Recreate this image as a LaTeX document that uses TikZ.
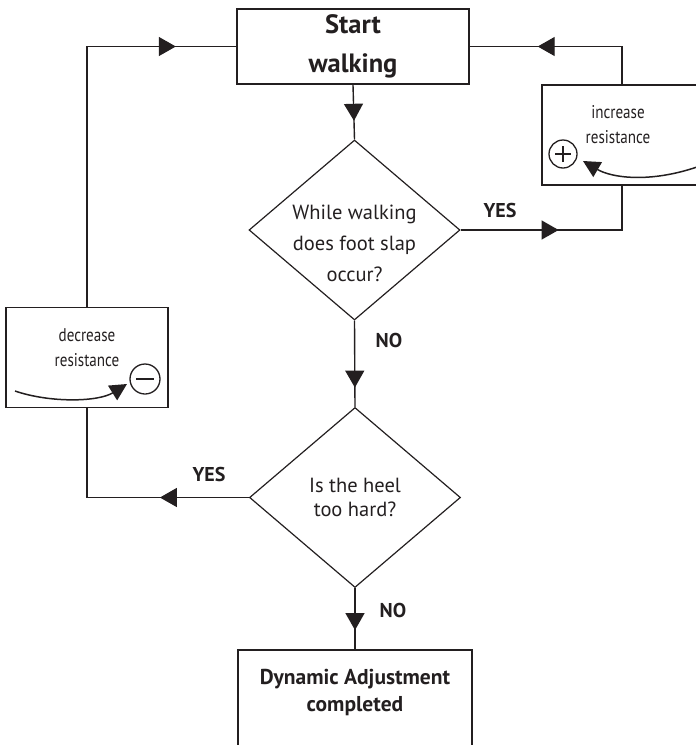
\documentclass[tikz,border=0pt]{standalone}
\usepackage{fontspec}
\setmainfont{PT Sans}
\newfontfamily\condfont[FakeStretch=0.82]{PT Sans}
\usetikzlibrary{shapes.geometric,arrows.meta,decorations.markings}
\definecolor{ink}{HTML}{231F20}
\tikzset{
  box/.style={draw=ink, line width=1.6pt, inner sep=0pt},
  dia/.style={draw=ink, line width=1.2pt, diamond, inner sep=0pt, minimum width=211pt, minimum height=180pt},
  conn/.style={draw=ink, line width=1.4pt},
  arrowat/.style={postaction={decorate}, decoration={markings, mark=at position #1 with {\arrow[ink]{Triangle[length=17pt,width=19pt]}}}},
  lab/.style={text=ink, font=\fontsize{20}{22}\selectfont\bfseries},
  qtext/.style={text=ink, align=center, inner sep=0pt},
  adj/.style={text=ink, align=center, inner sep=0pt, font=\condfont\fontsize{18.4}{25}\selectfont},
}
\begin{document}
\begin{tikzpicture}[x=1pt, y=-1pt]
\useasboundingbox (0,0) rectangle (696,745);
\clip (0,0) rectangle (696,745);
% boxes
\node[box, minimum width=232pt, minimum height=75pt, align=center, text=ink,
      font=\fontsize{26.5}{39}\selectfont\bfseries] (start) at (353,46.5) {Start\\walking};
\node[dia] (d1) at (354.5,230) {};
\node[qtext, font=\fontsize{20.5}{31}\selectfont] (d1t) at (354.5,243) {While walking\\does foot slap\\occur?};
\node[dia] (d2) at (355,497.5) {};
\node[qtext, font=\fontsize{20.5}{24}\selectfont] (d2t) at (355,497) {Is the heel\\too hard?};
\node[box, minimum width=234pt, minimum height=120pt, anchor=north] (fin) at (355,649) {};
\node[qtext, font=\fontsize{21.5}{27}\selectfont\bfseries] (fint) at (355,692) {Dynamic Adjustment\\completed};
\node[box, minimum width=160pt, minimum height=100pt] (inc) at (622,135) {};
\node[adj] (inct) at (618,125) {increase\\resistance};
\node[box, minimum width=162pt, minimum height=100pt] (dec) at (87,357.5) {};
\node[adj] (dect) at (87,348) {decrease\\resistance};
% plus / minus symbols
\node[draw=ink, line width=1.3pt, circle, minimum size=28pt, inner sep=0pt] (plus) at (563,154) {};
\draw[ink, line width=1.6pt] ([xshift=-8pt]plus.center) -- ([xshift=8pt]plus.center)
      ([yshift=-8pt]plus.center) -- ([yshift=8pt]plus.center);
\node[draw=ink, line width=1.3pt, circle, minimum size=30pt, inner sep=0pt] (minus) at (145,379) {};
\draw[ink, line width=1.6pt] ([xshift=-9pt]minus.center) -- ([xshift=9pt]minus.center);
% curved arrows inside boxes
\coordinate (incA) at (697,167);
\coordinate (incB) at (583,161);
\draw[conn, line width=1.5pt, -{Triangle[length=17pt,width=17pt]}] (incA) .. controls (650,183) and (612,178) .. (incB);
\coordinate (decA) at (15,391);
\coordinate (decB) at (127,384);
\draw[conn, line width=1.5pt, -{Triangle[length=17pt,width=17pt]}] (decA) .. controls (50,403) and (98,402) .. (decB);
% connectors
\draw[conn, arrowat=36pt] (start.south) -- (d1.north);
\draw[conn, arrowat=67pt] (d1.south) -- (d2.north);
\draw[conn, arrowat=42pt] (d2.south) -- (fin.north);
\draw[conn, arrowat=98pt] (d1.east) -| (inc.south);
\draw[conn, arrowat=122pt] (inc.north) |- (start.east);
\draw[conn, arrowat=349pt] (dec.north) |- (start.west);
\draw[conn, arrowat=89pt] (d2.west) -| (dec.south);
% labels
\node[lab] (y1) at (500,210) {YES};
\node[lab] (n1) at (389,340) {NO};
\node[lab] (y2) at (209,474) {YES};
\node[lab] (n2) at (393,610) {NO};
\end{tikzpicture}
\end{document}
